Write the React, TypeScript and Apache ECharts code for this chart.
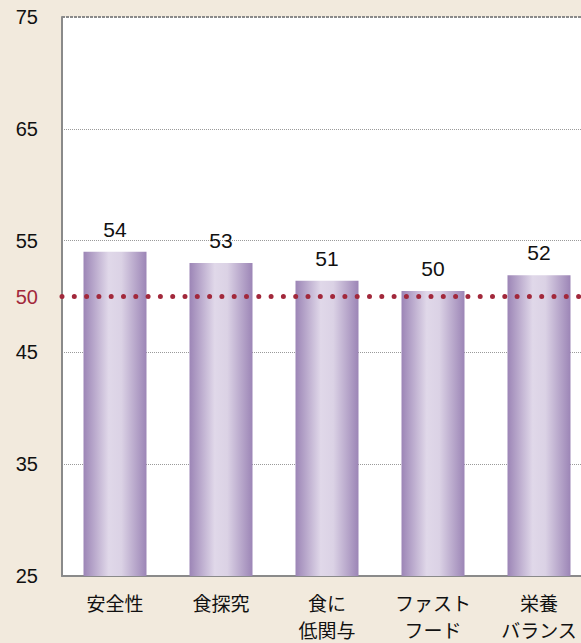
import React, { useEffect, useRef } from "react";
import * as echarts from "echarts";

const categories = ["安全性", "食探究", "食に\n低関与", "ファスト\nフード", "栄養\nバランス"];
const values = [54.0, 53.0, 51.4, 50.5, 51.9];
const valueLabels = ["54", "53", "51", "50", "52"];
const yMin = 25;
const yMax = 75;
const yInterval = 10;
const referenceValue = 50;

export default function App() {
  const ref = useRef<HTMLDivElement>(null);
  useEffect(() => {
    document.body.style.margin = "0";
    const chart = echarts.init(ref.current!, null, { renderer: "svg" });
    const barGradient = new echarts.graphic.LinearGradient(0, 0, 1, 0, [
      { offset: 0, color: "#9c85b6" },
      { offset: 0.4, color: "#e0d8e9" },
      { offset: 0.6, color: "#dbd2e5" },
      { offset: 1, color: "#9c85b6" },
    ]);
    chart.setOption({
      animation: false,
      backgroundColor: "#f2eadd",
      grid: {
        left: 62,
        top: 17,
        width: 530,
        height: 559,
        backgroundColor: "#ffffff",
        show: true,
        borderWidth: 0,
        outerBoundsMode: "none",
        containLabel: false,
      },
      xAxis: {
        type: "category",
        data: categories,
        axisTick: { show: false },
        axisLine: { lineStyle: { color: "#8a8a8a", width: 2 } },
        axisLabel: {
          color: "#111",
          fontSize: 19,
          lineHeight: 27,
          margin: 13,
          fontFamily: "Noto Sans CJK JP",
          interval: 0,
        },
      },
      yAxis: {
        type: "value",
        min: yMin,
        max: yMax,
        interval: yInterval,
        axisLine: { show: true, lineStyle: { color: "#8a8a8a", width: 2 } },
        axisTick: { show: false },
        axisLabel: { color: "#111", fontSize: 20, margin: 24, fontFamily: "Liberation Sans" },
        splitLine: { lineStyle: { color: "#9a9a9a", type: "dotted", width: 1 } },
      },
      series: [
        {
          type: "bar",
          data: values,
          barWidth: 63,
          itemStyle: { color: barGradient },
          label: {
            show: true,
            position: "top",
            distance: 12,
            color: "#111",
            fontSize: 21,
            fontFamily: "Liberation Sans",
            formatter: (p: any) => valueLabels[p.dataIndex],
          },
          markLine: {
            silent: true,
            symbol: "none",
            data: [
              {
                yAxis: yMax,
                lineStyle: { color: "#8a8a8a", width: 2, type: [3, 1], cap: "butt" },
                label: { show: false },
              },
              { yAxis: referenceValue },
            ],
            lineStyle: { color: "#a2283b", width: 5, type: [0, 12.3], cap: "round" },
            label: {
              show: true,
              position: "start",
              distance: 24,
              formatter: String(referenceValue),
              color: "#a2283b",
              fontSize: 20,
              fontFamily: "Liberation Sans",
            },
          },
        },
      ],
    });
    return () => chart.dispose();
  }, []);
  return <div ref={ref} style={{ width: 581, height: 643 }} />;
}
